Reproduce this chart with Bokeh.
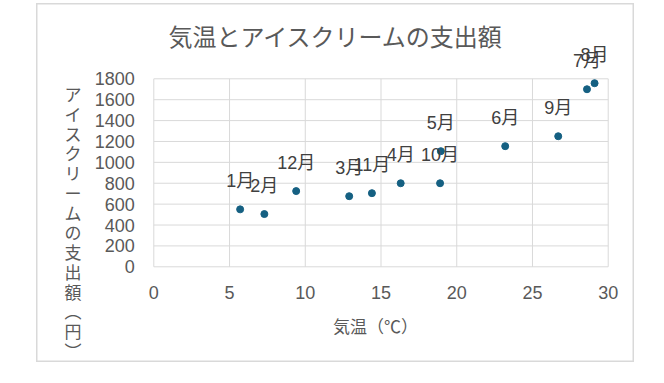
from bokeh.plotting import figure
from bokeh.models import Range1d, FixedTicker, ColumnDataSource, LabelSet, Label
from bokeh.core.properties import value
from bokeh.embed import file_html
from bokeh.resources import INLINE

months = ["1月", "2月", "3月", "4月", "5月", "6月", "7月", "8月", "9月", "10月", "11月", "12月"]
temps = [5.7, 7.3, 12.9, 16.3, 18.95, 23.2, 28.6, 29.1, 26.7, 18.9, 14.4, 9.4]
spend = [550, 505, 676, 800, 1107, 1155, 1700, 1758, 1250, 800, 705, 725]
x_ticks = [0, 5, 10, 15, 20, 25, 30]
y_ticks = [0, 200, 400, 600, 800, 1000, 1200, 1400, 1600, 1800]
title_text = "気温とアイスクリームの支出額"
x_label_text = "気温（℃）"
y_label_chars = ["ア", "イ", "ス", "ク", "リ", "ー", "ム", "の", "支", "出", "額", "︵", "円", "︶"]

LAT = "Liberation Sans"
MIX = "'Liberation Sans', 'Noto Sans CJK JP'"
JP = "Noto Sans CJK JP"
GRID = "#d9d9d9"

# the frame covers the whole chart box; the data area 0..30 x 0..1800 sits inside it
p = figure(width=598, height=359, output_backend="svg", toolbar_location=None,
           x_range=Range1d(-7.744, 31.736), y_range=Range1d(-916.3, 2521),
           min_border=0, min_border_left=0, min_border_right=0,
           min_border_top=0, min_border_bottom=0,
           margin=(3, 0, 0, 36))
p.outline_line_color = GRID
p.outline_line_width = 2
p.background_fill_color = "white"
p.border_fill_color = "white"
p.xgrid.visible = False
p.ygrid.visible = False

for ax, ticks in ((p.xaxis[0], x_ticks), (p.yaxis[0], y_ticks)):
    ax.fixed_location = 0
    ax.ticker = FixedTicker(ticks=ticks)
    ax.axis_line_color = None
    ax.major_tick_line_color = None
    ax.minor_tick_line_color = None
    ax.major_tick_out = 0
    ax.major_tick_in = 0
    ax.major_label_text_font = LAT
    ax.major_label_text_font_size = "18px"
    ax.major_label_text_color = "#595959"
p.yaxis.major_label_standoff = 19
p.xaxis.major_label_standoff = 19

# gridlines spanning the tick extent
n_x, n_y = len(x_ticks), len(y_ticks)
p.segment(x0=x_ticks, y0=[y_ticks[0]] * n_x, x1=x_ticks, y1=[y_ticks[-1]] * n_x,
          line_color=GRID, line_width=1)
p.segment(x0=[x_ticks[0]] * n_y, y0=y_ticks, x1=[x_ticks[-1]] * n_y, y1=y_ticks,
          line_color=GRID, line_width=1)

src = ColumnDataSource(dict(x=temps, y=spend, m=months))
p.scatter("x", "y", source=src, size=7, fill_color="#156082", line_color="#156082")

labels = LabelSet(x="x", y="y", text="m", source=src, y_offset=28,
                  text_align="center", text_baseline="middle",
                  text_font=value(MIX), text_font_size=value("18px"),
                  text_color=value("#404040"))
p.add_layout(labels)

p.add_layout(Label(x=12.06, y=2215, text=title_text, text_align="center",
                   text_baseline="middle", text_font=JP, text_font_size="24px",
                   text_color="#595959"))
p.add_layout(Label(x=14.63, y=-562, text=x_label_text, text_align="center",
                   text_baseline="middle", text_font=JP, text_font_size="17px",
                   text_color="#595959"))
p.add_layout(Label(x=-5.334, y=430, text="\n".join(y_label_chars), text_align="center",
                   text_baseline="middle", text_font=JP, text_font_size="17px",
                   text_line_height=0.79, text_color="#595959"))

open("out.html", "w").write(file_html(p, INLINE))
